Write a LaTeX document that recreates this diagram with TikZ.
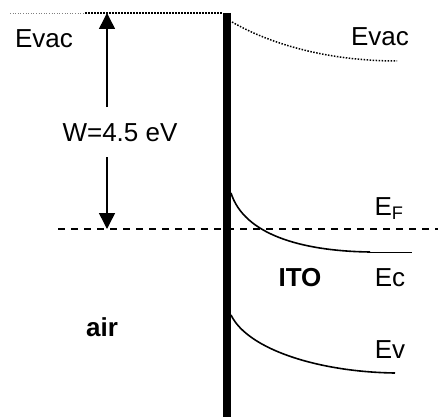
\documentclass[tikz,border=0pt]{standalone}
\usepackage{fontspec}
\setmainfont{Liberation Sans}
\usetikzlibrary{arrows.meta}
\begin{document}
\begin{tikzpicture}[x=1pt,y=-1pt,
  lbl/.style={inner sep=0pt,font=\fontsize{26}{30}\selectfont},
  blbl/.style={inner sep=0pt,font=\fontsize{26}{30}\selectfont\bfseries},
  band/.style={line width=1.6pt},
  warrow/.style={line width=1.5pt,-{Triangle[width=16pt,length=16pt]}}]
\useasboundingbox (0,0) rectangle (438,417);
% vacuum level, left
\draw[gray,line width=0.6pt,dotted] (10,13) -- (85,13);
\draw[line width=1.5pt,dash pattern=on 1.5pt off 1.5pt] (85,13) -- (223,13);
% Fermi level
\draw[line width=1.5pt,dash pattern=on 7pt off 6pt] (58,229) -- (438,229);
% interface bar
\draw[line width=8pt] (227,13) -- (227,417);
% work function arrow
\coordinate (top) at (107,13);
\coordinate (bot) at (107,229);
\node[lbl] (W) at (120,133) {W=4.5 eV};
\coordinate (wtop) at (107,107);
\coordinate (wbot) at (107,157);
\draw[warrow] (wtop) -- (top);
\draw[warrow] (wbot) -- (bot);
% ITO bands
\coordinate (vac0) at (232,22);
\coordinate (vac1) at (397,61);
\draw[line width=1.5pt,dash pattern=on 1.5pt off 1.5pt] (vac0) .. controls (272,45) and (330,61) .. (vac1);
\coordinate (ec0) at (231,193);
\coordinate (ec1) at (370,252);
\coordinate (ec2) at (412,252);
\draw[band] (ec0) .. controls (244,234) and (300,251) .. (ec1);
\draw[line width=0.8pt] (ec1) -- (ec2);
\coordinate (ev0) at (231,315);
\coordinate (ev1) at (395,373);
\draw[band] (ev0) .. controls (248,350) and (320,372) .. (ev1);
% labels
\node[lbl] (evacL) at (44,39) {Evac};
\node[lbl] (evacR) at (380,37) {Evac};
\node[lbl] (EF) at (389,209) {E$_{\mathrm{F}}$};
\node[blbl] (ito) at (300,278) {ITO};
\node[lbl] (ec) at (390,278) {Ec};
\node[lbl] (ev) at (390,350) {Ev};
\node[blbl] (air) at (102,327) {air};
\end{tikzpicture}
\end{document}
